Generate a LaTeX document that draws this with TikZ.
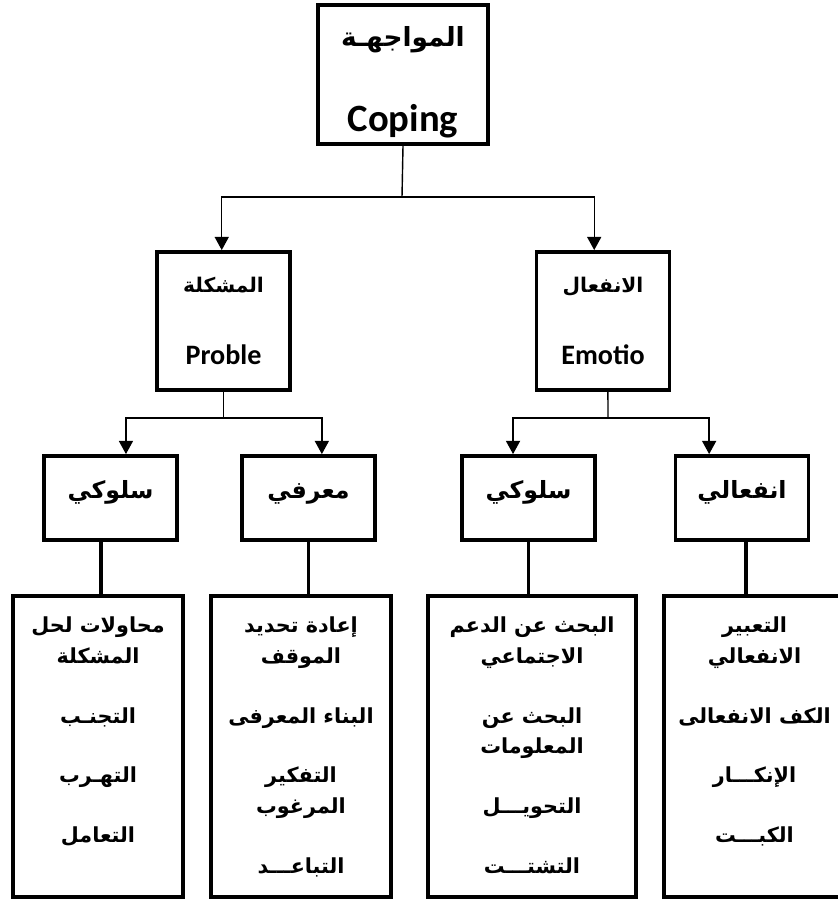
\documentclass[tikz,border=0pt]{standalone}
\usepackage{fontspec}
\newfontfamily\arabicfont[Script=Arabic]{DejaVu Sans}
\newfontfamily\latinfont{Carlito}
\TeXXeTstate=1
\newcommand{\arline}[1]{\beginR#1\endR}
\usetikzlibrary{arrows.meta}

\begin{document}
\begin{tikzpicture}[
    x=0.02cm, y=-0.02cm,
    frm/.style={draw, line width=2.2pt, inner sep=0pt, align=center},
    rootbox/.style={frm, minimum width=3.4cm, minimum height=2.78cm,
                    font=\bfseries\fontsize{15}{17}\selectfont},
    catbox/.style={frm, minimum width=2.66cm, minimum height=2.76cm,
                   font=\bfseries\fontsize{11.5}{14}\selectfont},
    subbox/.style={frm, minimum width=2.66cm, minimum height=1.68cm,
                   text height=9pt, text depth=9pt,
                   font=\arabicfont\bfseries\fontsize{13.5}{16}\selectfont},
    lstbox/.style={frm, minimum height=6.02cm},
    lsttxt/.style={anchor=north, inner sep=0pt, align=center,
                   font=\arabicfont\bfseries\fontsize{11.8}{17.6}\selectfont},
    arr/.style={-{Triangle[length=7.5pt,width=8pt]}, line width=0.8pt},
    feed/.style={line width=0.8pt},
    link/.style={line width=2.2pt},
  ]
  \useasboundingbox (0,0) rectangle (838,899);
  \clip (0,0) rectangle (838,899);

  % --- root ---
  \node[rootbox] (cope) at (403,74.5)
    {{\arabicfont\rule{0pt}{20pt}\arline{المواجهـة}}\\[28pt]{\latinfont\fontsize{22}{22}\selectfont Coping}};

  % --- problem / emotion ---
  \node[catbox] (prob) at (223.5,321)
    {{\arabicfont\arline{المشكلة}}\\[27pt]{\latinfont\fontsize{16}{16}\selectfont Proble}};
  \node[catbox] (emo) at (603,321)
    {{\arabicfont\arline{الانفعال}}\\[27pt]{\latinfont\fontsize{16}{16}\selectfont Emotio}};

  \coordinate (jTop) at (402,197);
  \draw[feed] (cope.south) -- (jTop);
  \draw[arr] (jTop) -| ([xshift=-1pt]prob.north);
  \draw[arr] (jTop) -| ([xshift=-5pt]emo.north);

  % --- third row ---
  \node[subbox] (behP) at (110.5,498) {\arline{سلوكي}};
  \node[subbox] (cogP) at (308.5,498) {\arline{معرفي}};
  \node[subbox] (behE) at (528.5,498) {\arline{سلوكي}};
  \node[subbox] (affE) at (742,498)   {\arline{انفعالي}};

  \coordinate (jP) at (223.5,418);
  \coordinate (jE) at (608,418);
  \draw[feed] (prob.south) -- (jP);
  \draw[feed] ([xshift=2.8pt]emo.south) -- (jE);
  \draw[arr] (jP) -| ([xshift=8.8pt]behP.north);
  \draw[arr] (jP) -| ([xshift=7.6pt]cogP.north);
  \draw[arr] (jE) -| ([xshift=-8.8pt]behE.north);
  \draw[arr] (jE) -| ([xshift=-18.7pt]affE.north);

  % --- lists ---
  \node[lstbox, minimum width=3.4cm]  (listA) at (98,746.5) {};
  \node[lstbox, minimum width=3.6cm]  (listB) at (301,746.5) {};
  \node[lstbox, minimum width=4.16cm] (listC) at (532,746.5) {};
  \node[lstbox, minimum width=3.62cm] (listD) at (754.5,746.5) {};

  \draw[link] ([xshift=-5.4pt]behP.south) -- ([xshift=-5.4pt]behP.south |- listA.north);
  \draw[link] (cogP.south) -- (cogP.south |- listB.north);
  \draw[link] (behE.south) -- (behE.south |- listC.north);
  \draw[link] ([xshift=2.3pt]affE.south) -- ([xshift=2.3pt]affE.south |- listD.north);

  \node[lsttxt] (itemsA) at ([yshift=-12.5pt]listA.north)
    {\arline{محاولات لحل}\\\arline{المشكلة}\\[16.5pt]
     \arline{التجنـب}\\[16.5pt]\arline{التهـرب}\\[16.5pt]\arline{التعامل}};
  \node[lsttxt] (itemsB) at ([yshift=-12.5pt]listB.north)
    {\arline{إعادة تحديد}\\\arline{الموقف}\\[16.5pt]
     \arline{البناء المعرفى}\\[16.5pt]
     \arline{التفكير}\\\arline{المرغوب}\\[16.5pt]\arline{التباعـــد}};
  \node[lsttxt] (itemsC) at ([yshift=-12.5pt]listC.north)
    {\arline{البحث عن الدعم}\\\arline{الاجتماعي}\\[16.5pt]
     \arline{البحث عن}\\\arline{المعلومات}\\[16.5pt]
     \arline{التحويـــل}\\[16.5pt]\arline{التشتـــت}};
  \node[lsttxt] (itemsD) at ([yshift=-12.5pt]listD.north)
    {\arline{التعبير}\\\arline{الانفعالي}\\[16.5pt]
     \arline{الكف الانفعالى}\\[16.5pt]
     \arline{الإنكـــار}\\[16.5pt]\arline{الكبـــت}};
\end{tikzpicture}
\end{document}
